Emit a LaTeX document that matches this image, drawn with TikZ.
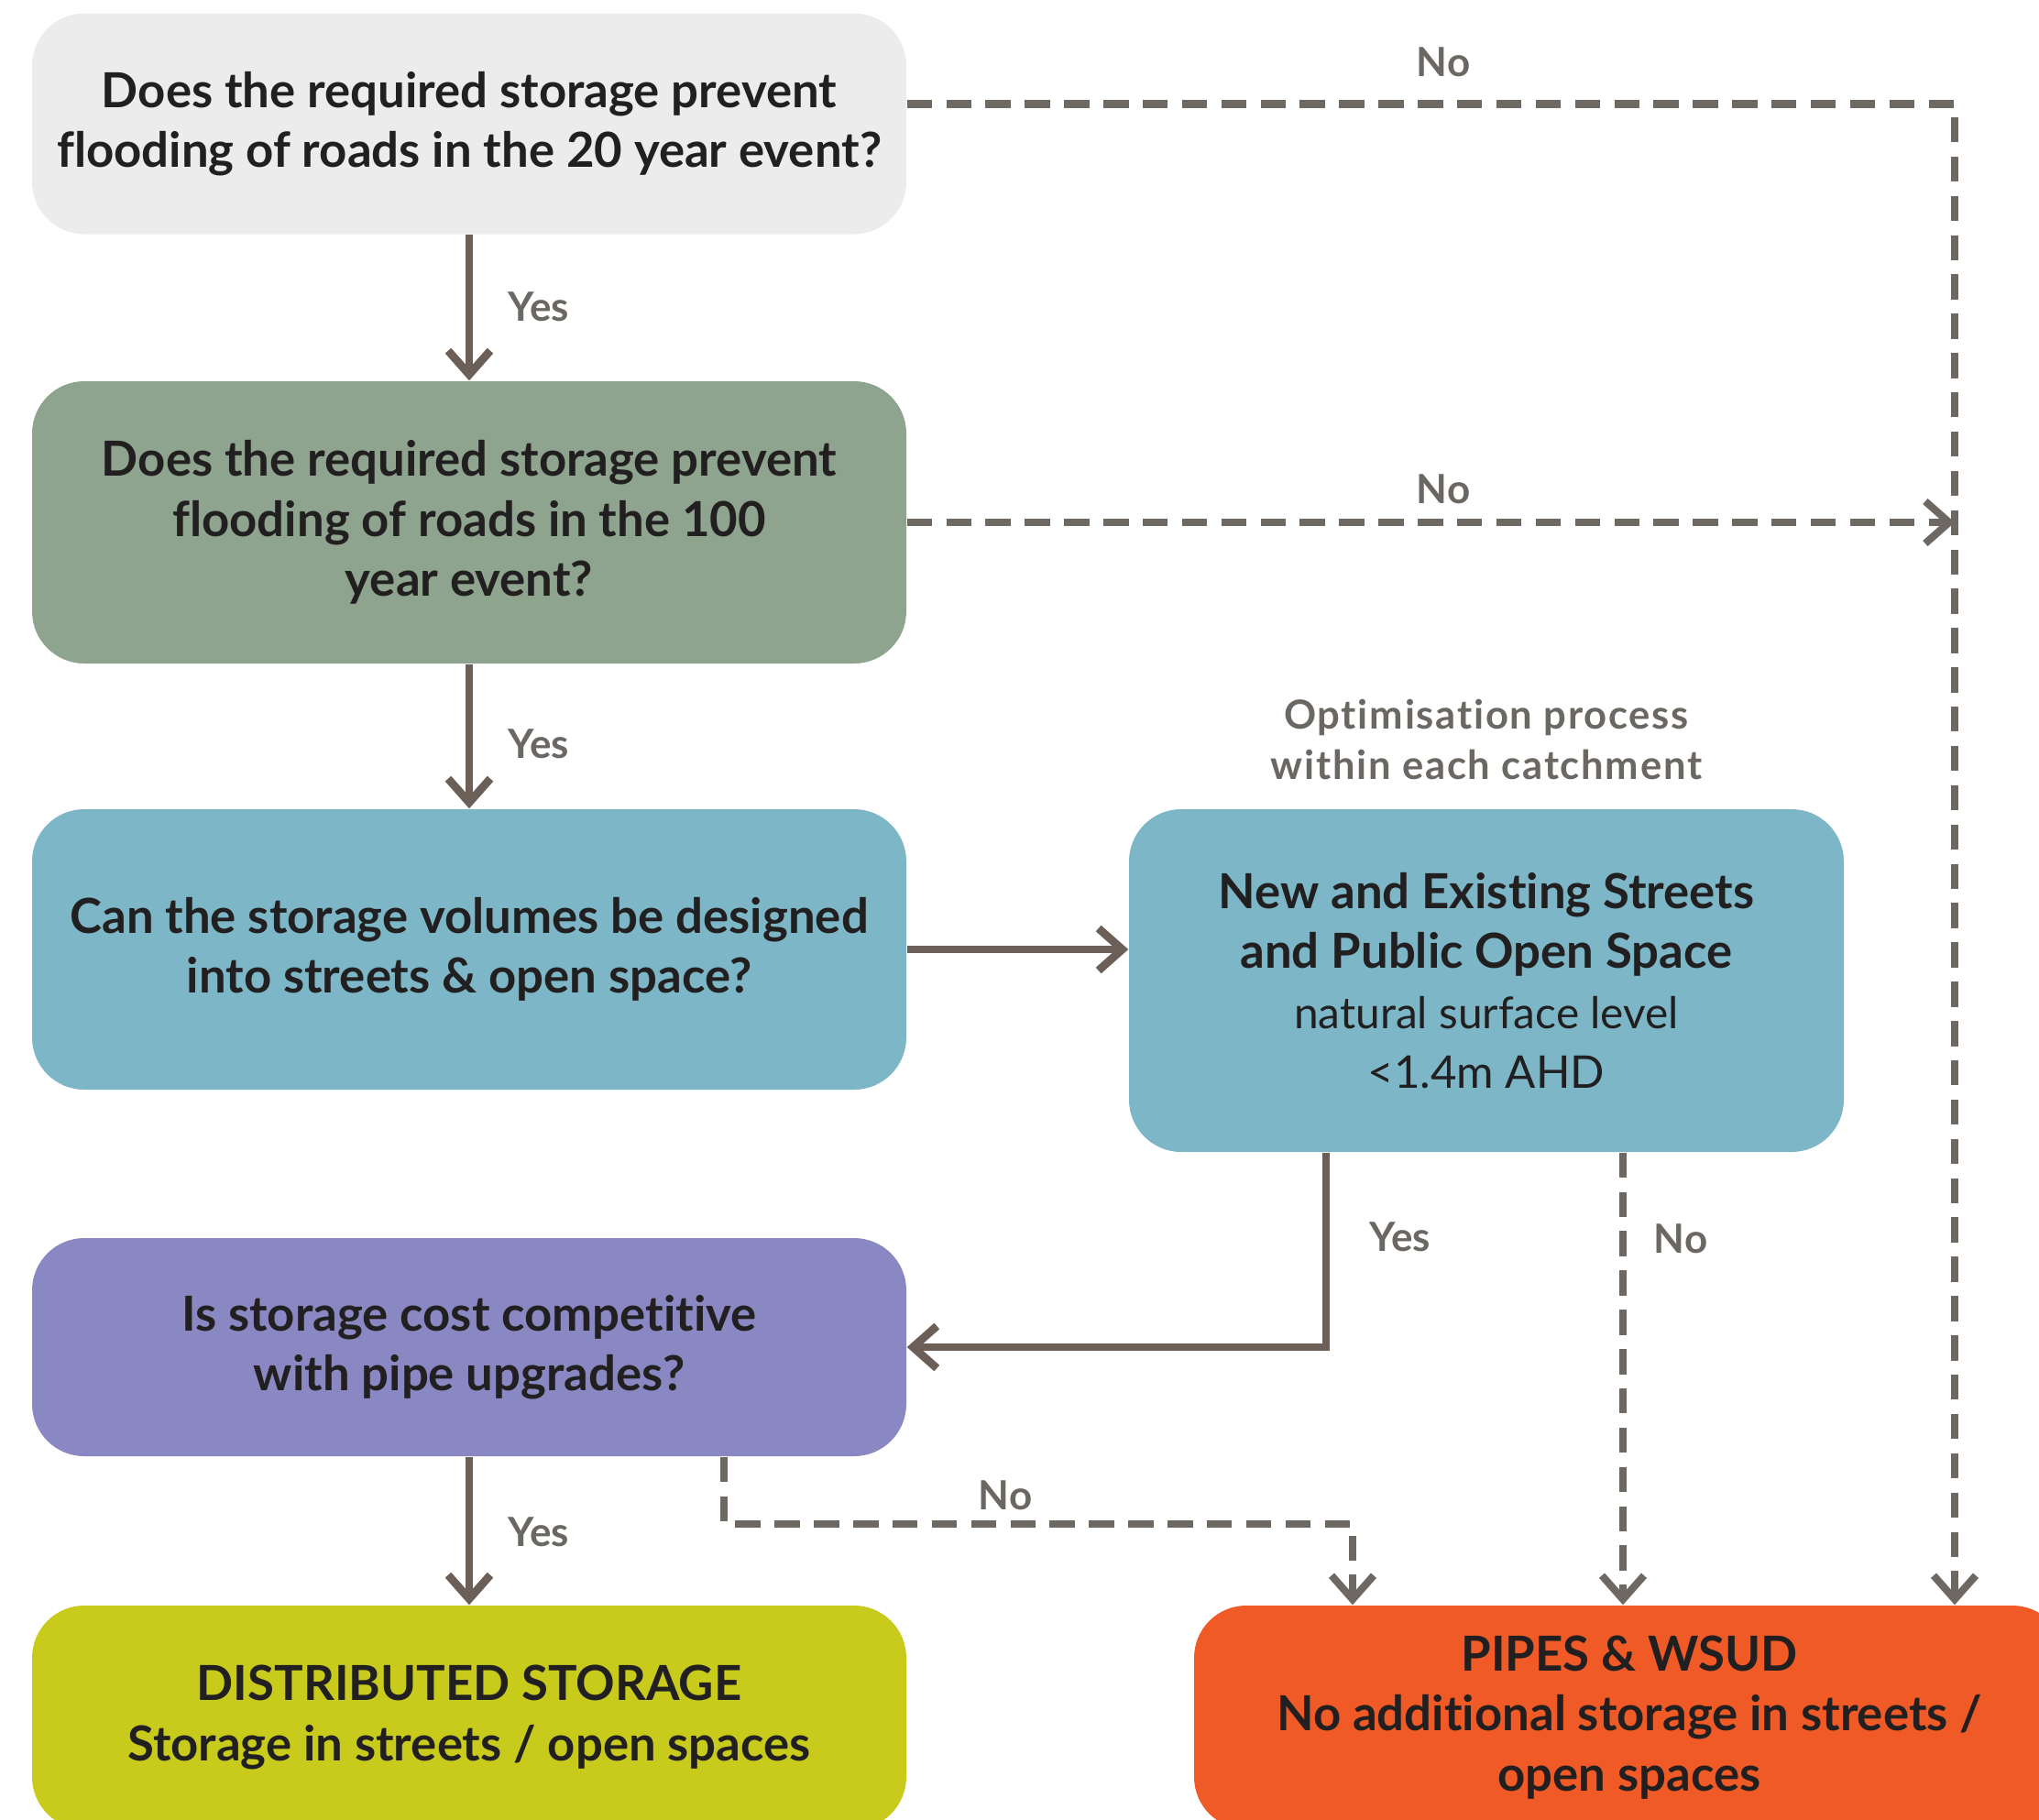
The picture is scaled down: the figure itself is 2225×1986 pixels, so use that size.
\documentclass[tikz,border=0pt]{standalone}
\usepackage{fontspec}
\setmainfont{Lato}[Ligatures=NoCommon]
\usetikzlibrary{arrows.meta}
\definecolor{cBoxA}{HTML}{ECECEC}
\definecolor{cBoxB}{HTML}{8FA48E}
\definecolor{cBoxC}{HTML}{7DB7C7}
\definecolor{cBoxD}{HTML}{8A88C2}
\definecolor{cBoxE}{HTML}{C8CB1C}
\definecolor{cBoxF}{HTML}{EF5A26}
\definecolor{cLine}{HTML}{6B5F57}
\definecolor{cDash}{HTML}{6E6863}
\definecolor{cText}{HTML}{211F20}
\definecolor{cLab}{HTML}{6B6762}
\tikzset{
  box/.style={rounded corners=5.7mm, inner sep=0pt, align=center, text=cText,
    font=\bfseries\fontsize{15}{18.6}\selectfont},
  lab/.style={text=cLab, font=\bfseries\fontsize{12.5}{14}\selectfont, inner sep=0pt},
  sline/.style={draw=cLine, line width=2.5pt, -{Straight Barb[length=2.6mm,width=4.6mm]}},
  dline/.style={draw=cDash, line width=2.3pt, dash pattern=on 7.8pt off 4.4pt},
  darrow/.style={dline, -{Straight Barb[length=2.6mm,width=4.6mm]}}
}
\begin{document}
\begin{tikzpicture}[x=0.1mm, y=-0.1mm]
\useasboundingbox (0,0) rectangle (2225,1986);
\clip (0,0) rectangle (2225,1986);
% boxes
\node[box, fill=cBoxA, minimum width=95.4mm, minimum height=24.1mm] (b1) at (512,135)
  {Does the required storage prevent\\flooding of roads in the 20 year event?};
\node[box, fill=cBoxB, minimum width=95.4mm, minimum height=30.8mm] (b2) at (512,570)
  {Does the required storage prevent\\flooding of roads in the 100\\year event?};
\node[box, fill=cBoxC, minimum width=95.4mm, minimum height=30.6mm] (b3) at (512,1036)
  {Can the storage volumes be designed\\into streets \& open space?};
\node[box, fill=cBoxC, minimum width=78mm, minimum height=37.4mm] (b4) at (1622,1070)
  {New and Existing Streets\\and Public Open Space\\{\mdseries\fontsize{13.6}{18.6}\selectfont natural surface level}\\{\mdseries\fontsize{14}{18.6}\selectfont <1.4m AHD}};
\node[box, fill=cBoxD, minimum width=95.4mm, minimum height=23.8mm] (b5) at (512,1470)
  {Is storage cost competitive\\with pipe upgrades?};
\node[box, fill=cBoxE, minimum width=95.4mm, minimum height=24.4mm] (b6) at (512,1874)
  {DISTRIBUTED STORAGE\\Storage in streets / open spaces};
\node[box, fill=cBoxF, minimum width=95mm, minimum height=24.4mm] (b7) at (1778,1874)
  {PIPES \& WSUD\\No additional storage in streets /\\open spaces};
% note
\node[lab, align=center, font=\bfseries\fontsize{12.4}{15.5}\selectfont\addfontfeatures{LetterSpace=4}] (opt) at (1622,807)
  {Optimisation process\\within each catchment};
% coordinates
\coordinate (rc) at (2133,113.5);
\coordinate (yb) at (1447,1462);
\coordinate (nb) at (1771,1300);
\coordinate (n5) at (790,1663);
\coordinate (n5b) at (1476,1663);
% solid connectors
\draw[sline] (b1.south) -- (b2.north);
\draw[sline] (b2.south) -- (b3.north);
\draw[sline] (b3.east) -- (b3.east -| b4.west);
\draw[sline] (b5.south) -- (b6.north);
\draw[sline] (b4.south -| yb) |- (b5.east);
% dashed connectors
\draw[darrow] (b1.east |- rc) -- (rc) -- (rc |- b7.north);
\draw[darrow] (b2.east) -- (b2.east -| rc);
\draw[darrow] (b4.south -| nb) -- (b7.north -| nb);
\draw[darrow] (b5.south -| n5) -- (n5) -- (n5b) -- (b7.north -| n5b);
% labels
\node[lab] (y1) at (588,335) {Yes};
\node[lab] (y2) at (588,812) {Yes};
\node[lab] (y3) at (588,1672) {Yes};
\node[lab] (y4) at (1528,1350) {Yes};
\node[lab] (n1) at (1575,68) {No};
\node[lab] (n2) at (1575,534) {No};
\node[lab] (n3) at (1834,1352) {No};
\node[lab] (n4) at (1097,1632) {No};
\end{tikzpicture}
\end{document}
